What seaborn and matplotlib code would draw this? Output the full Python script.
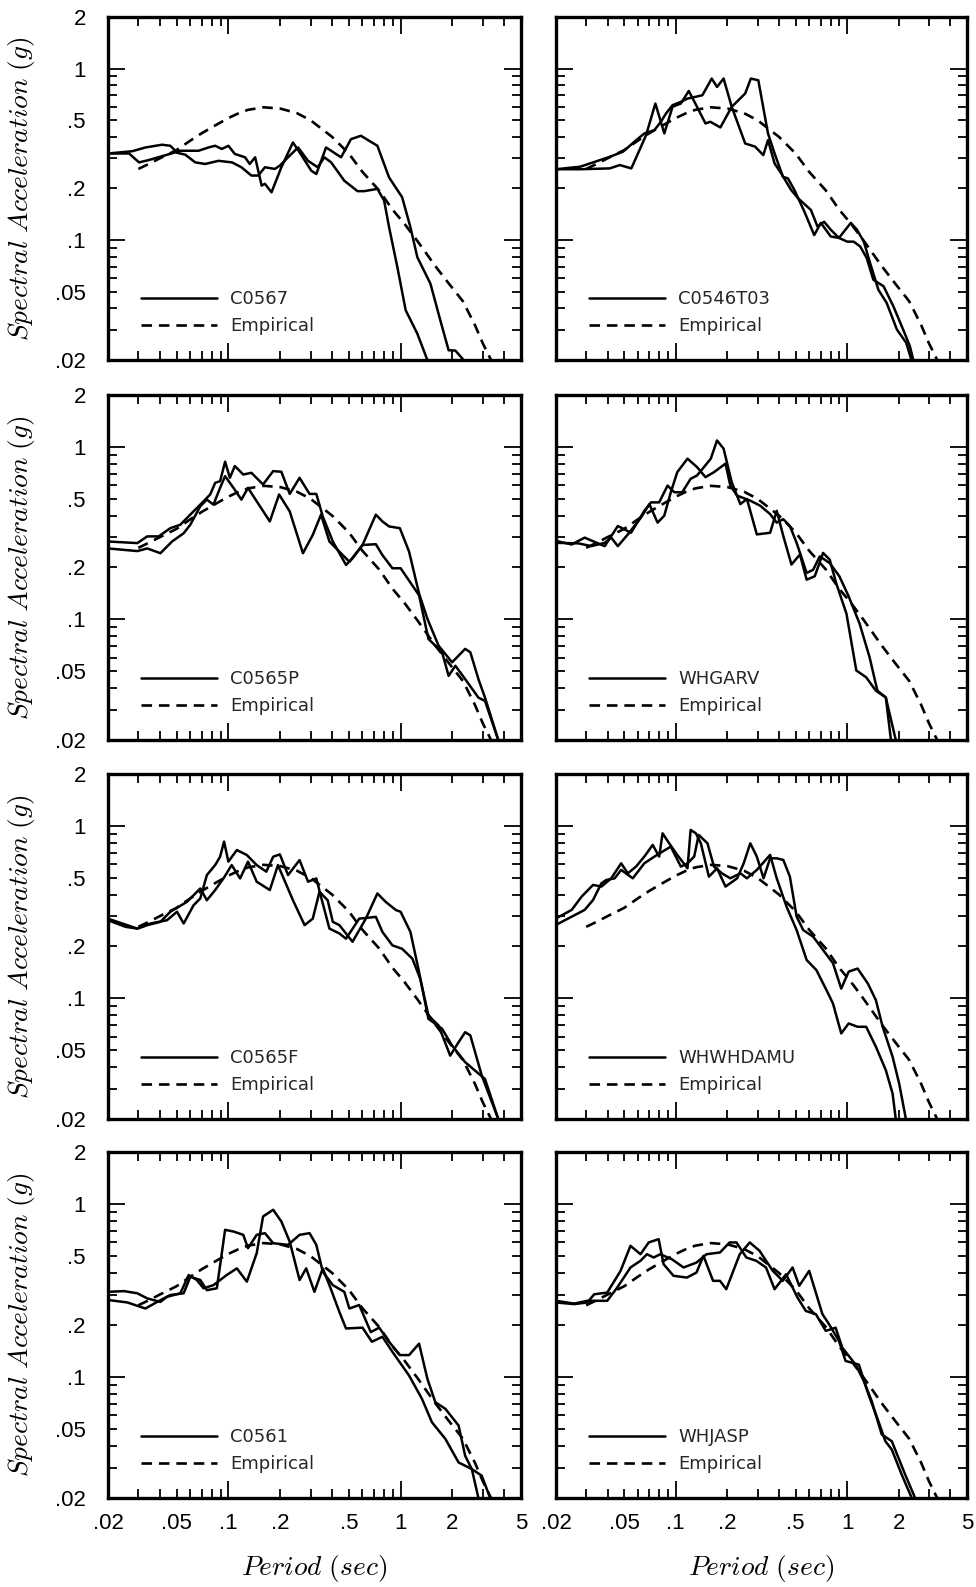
import matplotlib
matplotlib.use("Agg")
import matplotlib.pyplot as plt
import pandas as pd
import seaborn as sns
from matplotlib.ticker import FixedLocator, LogLocator, FuncFormatter, NullFormatter
from matplotlib.lines import Line2D

# ---------------- data (period in sec, spectral acceleration in g) ----------------
emp_t = [0.03, 0.035, 0.04, 0.05, 0.06, 0.07, 0.085, 0.1, 0.115, 0.13, 0.16, 0.2, 0.25, 0.3, 0.4, 0.5,
         0.6, 0.75, 0.9, 1.05, 1.25, 1.6, 1.9, 2.3, 2.7, 3.0, 3.35]
emp_sa = [0.26, 0.28, 0.30, 0.335, 0.38, 0.42, 0.47, 0.515, 0.55, 0.575, 0.595, 0.585, 0.55, 0.50, 0.40, 0.32,
          0.25, 0.195, 0.15, 0.125, 0.099, 0.07, 0.056, 0.044, 0.032, 0.025, 0.02]

c0567_t1 = [0.02,0.0277,0.033,0.0412,0.046,0.0492,0.0562,0.0671,0.0767,0.0838,0.0916,0.1,0.109,0.125,0.133,0.143,0.156,0.163,0.178,0.203,0.237,0.259,0.303,0.324,0.369,0.395,0.451,0.515,0.588,0.733,0.857,1.02,1.14,1.25,1.49,1.70,1.90,2.08,2.32]
c0567_sa1 = [0.32,0.33,0.347,0.36,0.355,0.332,0.332,0.332,0.347,0.355,0.34,0.355,0.318,0.304,0.278,0.304,0.208,0.213,0.19,0.266,0.371,0.325,0.254,0.243,0.347,0.332,0.304,0.388,0.406,0.355,0.232,0.178,0.119,0.0796,0.0557,0.0341,0.0228,0.0227,0.02]
c0567_t2 = [0.02,0.0265,0.0303,0.0345,0.0492,0.0562,0.0642,0.0733,0.0876,0.105,0.119,0.136,0.149,0.163,0.186,0.199,0.222,0.254,0.29,0.33,0.361,0.395,0.471,0.562,0.615,0.733,0.802,0.857,0.957,1.07,1.25,1.43]
c0567_sa2 = [0.32,0.32,0.284,0.293,0.325,0.315,0.284,0.278,0.29,0.284,0.266,0.238,0.238,0.266,0.26,0.272,0.304,0.347,0.29,0.266,0.304,0.284,0.222,0.193,0.193,0.199,0.17,0.119,0.0697,0.039,0.0285,0.02]

c0546_t1 = [0.02,0.0277,0.0412,0.0471,0.055,0.0614,0.0671,0.076,0.0857,0.0957,0.107,0.119,0.133,0.149,0.159,0.182,0.212,0.254,0.274,0.303,0.345,0.377,0.422,0.451,0.492,0.562,0.642,0.702,0.802,0.895,1.0,1.09,1.19,1.30,1.42,1.63,1.86,2.12,2.32,2.43]
c0546_sa1 = [0.259,0.259,0.262,0.274,0.262,0.335,0.41,0.626,0.419,0.599,0.626,0.741,0.599,0.479,0.49,0.454,0.599,0.716,0.875,0.855,0.419,0.32,0.234,0.229,0.196,0.147,0.107,0.126,0.105,0.103,0.098,0.098,0.0919,0.0786,0.0588,0.0538,0.0411,0.0301,0.0241,0.02]
c0546_t2 = [0.02,0.0277,0.0412,0.0492,0.0588,0.0656,0.075,0.0819,0.0876,0.0957,0.107,0.117,0.130,0.143,0.162,0.174,0.19,0.212,0.254,0.29,0.324,0.345,0.377,0.412,0.471,0.515,0.614,0.671,0.733,0.802,0.895,1.05,1.14,1.25,1.36,1.52,1.70,1.95,2.21,2.37]
c0546_sa2 = [0.259,0.268,0.306,0.328,0.383,0.419,0.438,0.49,0.547,0.612,0.64,0.669,0.684,0.70,0.875,0.782,0.875,0.599,0.366,0.351,0.313,0.383,0.28,0.245,0.196,0.176,0.15,0.12,0.128,0.115,0.103,0.126,0.115,0.098,0.0735,0.0514,0.043,0.0301,0.0252,0.02]

c0565p_t1 = [0.02,0.0296,0.0338,0.0394,0.046,0.0526,0.0614,0.0687,0.0784,0.0838,0.0895,0.0957,0.102,0.109,0.122,0.136,0.159,0.182,0.203,0.227,0.259,0.296,0.324,0.353,0.404,0.482,0.526,0.601,0.718,0.784,0.896,1.0,1.28,1.45,1.74,1.90,2.08,2.37,2.83,3.09,3.69]
c0565p_sa1 = [0.283,0.277,0.303,0.303,0.338,0.354,0.414,0.463,0.53,0.619,0.633,0.821,0.662,0.775,0.692,0.708,0.606,0.724,0.718,0.534,0.662,0.534,0.534,0.396,0.283,0.207,0.226,0.27,0.273,0.236,0.198,0.198,0.138,0.0771,0.0645,0.0471,0.0539,0.0451,0.0352,0.0337,0.02]
c0565p_t2 = [0.02,0.0296,0.0338,0.0403,0.0471,0.055,0.0601,0.0687,0.075,0.0819,0.0895,0.0957,0.107,0.119,0.130,0.146,0.174,0.197,0.227,0.271,0.309,0.345,0.386,0.441,0.504,0.601,0.718,0.784,0.857,0.99,1.12,1.28,1.43,1.66,1.99,2.37,2.54,2.83,3.09,3.69]
c0565p_sa2 = [0.258,0.249,0.258,0.242,0.283,0.316,0.354,0.453,0.495,0.463,0.579,0.677,0.579,0.495,0.579,0.484,0.37,0.53,0.423,0.242,0.309,0.405,0.283,0.247,0.216,0.27,0.405,0.37,0.346,0.338,0.247,0.141,0.101,0.0705,0.0564,0.0675,0.0645,0.0451,0.0352,0.02]

whgarv_t1 = [0.02,0.0247,0.0294,0.0337,0.0385,0.0459,0.0548,0.0655,0.0717,0.08,0.0895,0.098,0.109,0.122,0.133,0.146,0.16,0.174,0.19,0.212,0.238,0.26,0.297,0.355,0.388,0.424,0.473,0.53,0.58,0.647,0.723,0.791,0.863,0.99,1.13,1.29,1.47,1.68,1.92]
whgarv_sa1 = [0.285,0.272,0.298,0.281,0.266,0.348,0.318,0.426,0.477,0.477,0.597,0.546,0.546,0.653,0.683,0.764,0.855,1.09,0.978,0.624,0.466,0.499,0.311,0.318,0.426,0.304,0.208,0.238,0.17,0.178,0.243,0.222,0.162,0.108,0.0506,0.0462,0.0386,0.0353,0.02]
whgarv_t2 = [0.02,0.027,0.0322,0.0385,0.042,0.0459,0.0525,0.0627,0.0701,0.0783,0.0856,0.0935,0.102,0.117,0.133,0.149,0.167,0.195,0.208,0.228,0.272,0.311,0.355,0.388,0.424,0.463,0.507,0.58,0.633,0.692,0.791,0.9,1.02,1.18,1.35,1.50,1.68,1.80]
whgarv_sa2 = [0.278,0.276,0.266,0.278,0.298,0.266,0.311,0.39,0.466,0.364,0.399,0.546,0.714,0.855,0.764,0.668,0.714,0.8,0.597,0.522,0.488,0.456,0.408,0.364,0.381,0.348,0.278,0.186,0.194,0.232,0.212,0.178,0.136,0.0948,0.0605,0.0386,0.0353,0.02]

c0565f_t1 = [0.02,0.0253,0.0296,0.0353,0.044,0.0503,0.055,0.0628,0.0687,0.075,0.0838,0.0895,0.0944,0.1,0.112,0.128,0.146,0.166,0.182,0.199,0.222,0.259,0.29,0.324,0.345,0.386,0.441,0.482,0.575,0.718,0.784,0.896,1.02,1.17,1.30,1.45,1.66,1.94,2.17,2.37,2.54,2.96,3.69]
c0565f_sa1 = [0.284,0.26,0.254,0.272,0.284,0.318,0.272,0.347,0.38,0.519,0.593,0.663,0.811,0.621,0.725,0.678,0.593,0.543,0.663,0.684,0.519,0.634,0.475,0.496,0.388,0.254,0.238,0.222,0.29,0.297,0.243,0.203,0.194,0.17,0.13,0.0796,0.0697,0.0466,0.0557,0.0637,0.061,0.0357,0.02]
c0565f_t2 = [0.02,0.0296,0.0338,0.0403,0.046,0.0575,0.0687,0.075,0.0838,0.0936,0.1045,0.117,0.130,0.146,0.174,0.194,0.237,0.277,0.309,0.338,0.377,0.404,0.441,0.526,0.628,0.733,0.819,0.94,1.0,1.14,1.28,1.45,1.74,1.99,2.37,3.09,3.69]
c0565f_sa2 = [0.29,0.254,0.266,0.278,0.318,0.363,0.434,0.371,0.425,0.496,0.593,0.496,0.621,0.475,0.425,0.593,0.371,0.266,0.29,0.415,0.371,0.278,0.266,0.213,0.29,0.406,0.363,0.325,0.318,0.243,0.142,0.0762,0.0667,0.0533,0.0427,0.0341,0.02]

whwh_t1 = [0.02,0.0247,0.0282,0.0329,0.0368,0.042,0.048,0.0525,0.0586,0.0655,0.0733,0.08,0.0837,0.0915,0.102,0.117,0.122,0.131,0.14,0.156,0.174,0.195,0.228,0.249,0.272,0.297,0.325,0.355,0.388,0.424,0.463,0.507,0.554,0.633,0.723,0.826,0.923,1.02,1.15,1.32,1.47,1.61,1.84,2.01,2.2]
whwh_sa1 = [0.291,0.326,0.389,0.455,0.445,0.497,0.607,0.531,0.581,0.664,0.776,0.664,0.906,0.793,0.679,0.568,0.948,0.906,0.793,0.508,0.568,0.445,0.497,0.607,0.793,0.664,0.497,0.649,0.649,0.635,0.508,0.298,0.249,0.228,0.191,0.16,0.114,0.143,0.149,0.122,0.0978,0.0685,0.0459,0.0321,0.02]
whwh_t2 = [0.02,0.0294,0.0329,0.0368,0.0393,0.044,0.048,0.0561,0.0655,0.075,0.0837,0.0935,0.107,0.117,0.128,0.136,0.153,0.167,0.186,0.208,0.238,0.26,0.297,0.355,0.388,0.443,0.507,0.58,0.661,0.756,0.826,0.923,1.02,1.15,1.29,1.47,1.68,1.84,1.92]
whwh_sa2 = [0.267,0.326,0.372,0.465,0.486,0.497,0.556,0.497,0.607,0.664,0.71,0.759,0.581,0.607,0.664,0.887,0.793,0.581,0.531,0.497,0.531,0.497,0.556,0.679,0.497,0.34,0.249,0.167,0.146,0.112,0.0935,0.0627,0.0716,0.0685,0.0685,0.0525,0.0384,0.0281,0.02]

c0561_t1 = [0.02,0.0248,0.0296,0.0338,0.0403,0.044,0.0526,0.0588,0.0656,0.0717,0.0819,0.0978,0.112,0.128,0.146,0.159,0.182,0.203,0.227,0.259,0.283,0.316,0.353,0.386,0.441,0.482,0.601,0.681,0.784,0.896,1.12,1.33,1.52,1.82,2.17,2.59,2.96,3.31]
c0561_sa1 = [0.311,0.314,0.305,0.285,0.272,0.291,0.305,0.389,0.364,0.326,0.34,0.389,0.425,0.356,0.52,0.848,0.927,0.793,0.607,0.364,0.425,0.311,0.425,0.34,0.238,0.191,0.193,0.16,0.171,0.14,0.102,0.0749,0.0548,0.0439,0.0321,0.0294,0.0269,0.02]
c0561_t2 = [0.02,0.0259,0.033,0.0386,0.046,0.055,0.0601,0.0687,0.075,0.0857,0.0957,0.107,0.122,0.130,0.146,0.163,0.182,0.222,0.259,0.296,0.324,0.353,0.404,0.471,0.504,0.575,0.671,0.751,0.857,0.99,1.12,1.28,1.43,1.59,1.82,2.17,2.37,2.59,2.83]
c0561_sa2 = [0.279,0.27,0.249,0.272,0.298,0.305,0.38,0.364,0.318,0.326,0.71,0.694,0.664,0.556,0.664,0.679,0.594,0.581,0.664,0.679,0.581,0.407,0.34,0.311,0.249,0.261,0.182,0.193,0.16,0.134,0.134,0.156,0.0978,0.0716,0.0655,0.0525,0.0351,0.0294,0.02]

whjasp_t1 = [0.02,0.0255,0.0305,0.0334,0.0398,0.0476,0.0544,0.0622,0.0695,0.0794,0.0849,0.097,0.116,0.132,0.145,0.165,0.181,0.197,0.236,0.27,0.308,0.368,0.421,0.48,0.525,0.6,0.717,0.784,0.895,0.978,1.17,1.33,1.52,1.67,1.82,2.08,2.38]
whjasp_sa1 = [0.27,0.264,0.27,0.301,0.308,0.411,0.574,0.513,0.6,0.627,0.449,0.385,0.376,0.402,0.502,0.36,0.36,0.322,0.513,0.6,0.537,0.411,0.36,0.43,0.337,0.411,0.231,0.202,0.162,0.124,0.118,0.0794,0.0556,0.0426,0.0381,0.0273,0.02]
whjasp_t2 = [0.02,0.0255,0.0305,0.0398,0.0455,0.0544,0.0622,0.0679,0.0743,0.0812,0.0948,0.111,0.132,0.151,0.181,0.206,0.226,0.258,0.295,0.336,0.377,0.44,0.513,0.574,0.656,0.75,0.856,0.936,1.12,1.25,1.39,1.59,1.82,2.18,2.49]
whjasp_sa2 = [0.276,0.266,0.276,0.276,0.329,0.43,0.47,0.513,0.491,0.513,0.48,0.43,0.459,0.513,0.525,0.6,0.6,0.491,0.47,0.43,0.322,0.393,0.288,0.241,0.231,0.185,0.193,0.148,0.118,0.0948,0.0726,0.0466,0.0426,0.0273,0.02]

station_names = ["C0567", "C0546T03", "C0565P", "WHGARV", "C0565F", "WHWHDAMU", "C0561", "WHJASP"]
tick_values = [0.02, 0.05, 0.1, 0.2, 0.5, 1, 2, 5]
tick_texts = [".02", ".05", ".1", ".2", ".5", "1", "2", "5"]

panels = [
    (c0567_t1, c0567_sa1, c0567_t2, c0567_sa2),
    (c0546_t1, c0546_sa1, c0546_t2, c0546_sa2),
    (c0565p_t1, c0565p_sa1, c0565p_t2, c0565p_sa2),
    (whgarv_t1, whgarv_sa1, whgarv_t2, whgarv_sa2),
    (c0565f_t1, c0565f_sa1, c0565f_t2, c0565f_sa2),
    (whwh_t1, whwh_sa1, whwh_t2, whwh_sa2),
    (c0561_t1, c0561_sa1, c0561_t2, c0561_sa2),
    (whjasp_t1, whjasp_sa1, whjasp_t2, whjasp_sa2),
]

# ---------------- style ----------------
sns.set_theme(style="ticks")
TICKFONT = ["Liberation Sans", "DejaVu Sans"]
LEGFONT = ["DejaVu Sans"]
plt.rcParams["font.family"] = TICKFONT
plt.rcParams["mathtext.fontset"] = "cm"

W, H = 976, 1587
fig = plt.figure(figsize=(W / 100, H / 100), dpi=100)
fig.patch.set_facecolor("white")

col_px = [(108, 521), (556, 967)]
row_px = [(17, 360), (395, 740), (774, 1119), (1152, 1498)]

label_map = dict(zip(tick_values, tick_texts))


def fmt(v, pos):
    for k, s in label_map.items():
        if abs(v - k) / k < 1e-6:
            return s
    return ""


DASH = (0, (4, 2.6))
LW = 1.8

for i, (t1, sa1, t2, sa2) in enumerate(panels):
    r, c = divmod(i, 2)
    x0, x1 = col_px[c]
    y0, y1 = row_px[r]
    ax = fig.add_axes([x0 / W, 1 - y1 / H, (x1 - x0) / W, (y1 - y0) / H])
    ax.set_facecolor("white")

    d1 = pd.DataFrame({"T": t1, "Sa": sa1})
    d2 = pd.DataFrame({"T": t2, "Sa": sa2})
    de = pd.DataFrame({"T": emp_t, "Sa": emp_sa})
    sns.lineplot(data=d1, x="T", y="Sa", ax=ax, color="black", lw=LW, sort=False, estimator=None)
    sns.lineplot(data=d2, x="T", y="Sa", ax=ax, color="black", lw=LW, sort=False, estimator=None)
    sns.lineplot(data=de, x="T", y="Sa", ax=ax, color="black", lw=1.9, sort=False, estimator=None)
    ax.lines[-1].set_linestyle(DASH)

    ax.set_xscale("log")
    ax.set_yscale("log")
    ax.set_xlim(0.02, 5)
    ax.set_ylim(0.02, 2)
    ax.set_xlabel("")
    ax.set_ylabel("")

    for axis in (ax.xaxis, ax.yaxis):
        axis.set_major_locator(FixedLocator([0.1, 1]))
        axis.set_minor_locator(LogLocator(base=10, subs=[2, 3, 4, 5, 6, 7, 8, 9]))

    if r == 3:
        ax.xaxis.set_major_formatter(FuncFormatter(fmt))
        ax.xaxis.set_minor_formatter(FuncFormatter(fmt))
    else:
        ax.xaxis.set_major_formatter(NullFormatter())
        ax.xaxis.set_minor_formatter(NullFormatter())
    if c == 0:
        ax.yaxis.set_major_formatter(FuncFormatter(fmt))
        ax.yaxis.set_minor_formatter(FuncFormatter(fmt))
    else:
        ax.yaxis.set_major_formatter(NullFormatter())
        ax.yaxis.set_minor_formatter(NullFormatter())

    ax.tick_params(which="both", direction="in", top=True, right=True, color="black",
                   width=1.3, labelsize=16, labelcolor="black")
    ax.tick_params(which="major", length=12)
    ax.tick_params(which="minor", length=6.5)
    ax.tick_params(axis="y", which="both", pad=16)
    ax.tick_params(axis="x", which="both", pad=11)

    for sp in ax.spines.values():
        sp.set_visible(True)
        sp.set_linewidth(2.4)
        sp.set_color("black")

    handles = [Line2D([], [], color="black", lw=LW),
               Line2D([], [], color="black", lw=1.9, linestyle=DASH)]
    ax.legend(handles, [station_names[i], "Empirical"], loc="lower left",
              bbox_to_anchor=(0.08, 0.072), frameon=False, handlelength=4.2,
              handletextpad=0.75, labelspacing=0.5, borderpad=0, borderaxespad=0,
              prop={"family": LEGFONT, "size": 13})

# axis titles
for r, (y0, y1) in enumerate(row_px):
    fig.text(22 / W, 1 - (y0 + y1) / 2 / H, r"$Spectral\ Acceleration\ (g)$",
             rotation=90, ha="center", va="center", fontsize=19.8, color="black")
for c, (x0, x1) in enumerate(col_px):
    fig.text((x0 + x1) / 2 / W, 1 - 1569 / H, r"$Period\ (sec)$",
             ha="center", va="center", fontsize=19.8, color="black")

fig.savefig("out.png", dpi=100, facecolor="white")
